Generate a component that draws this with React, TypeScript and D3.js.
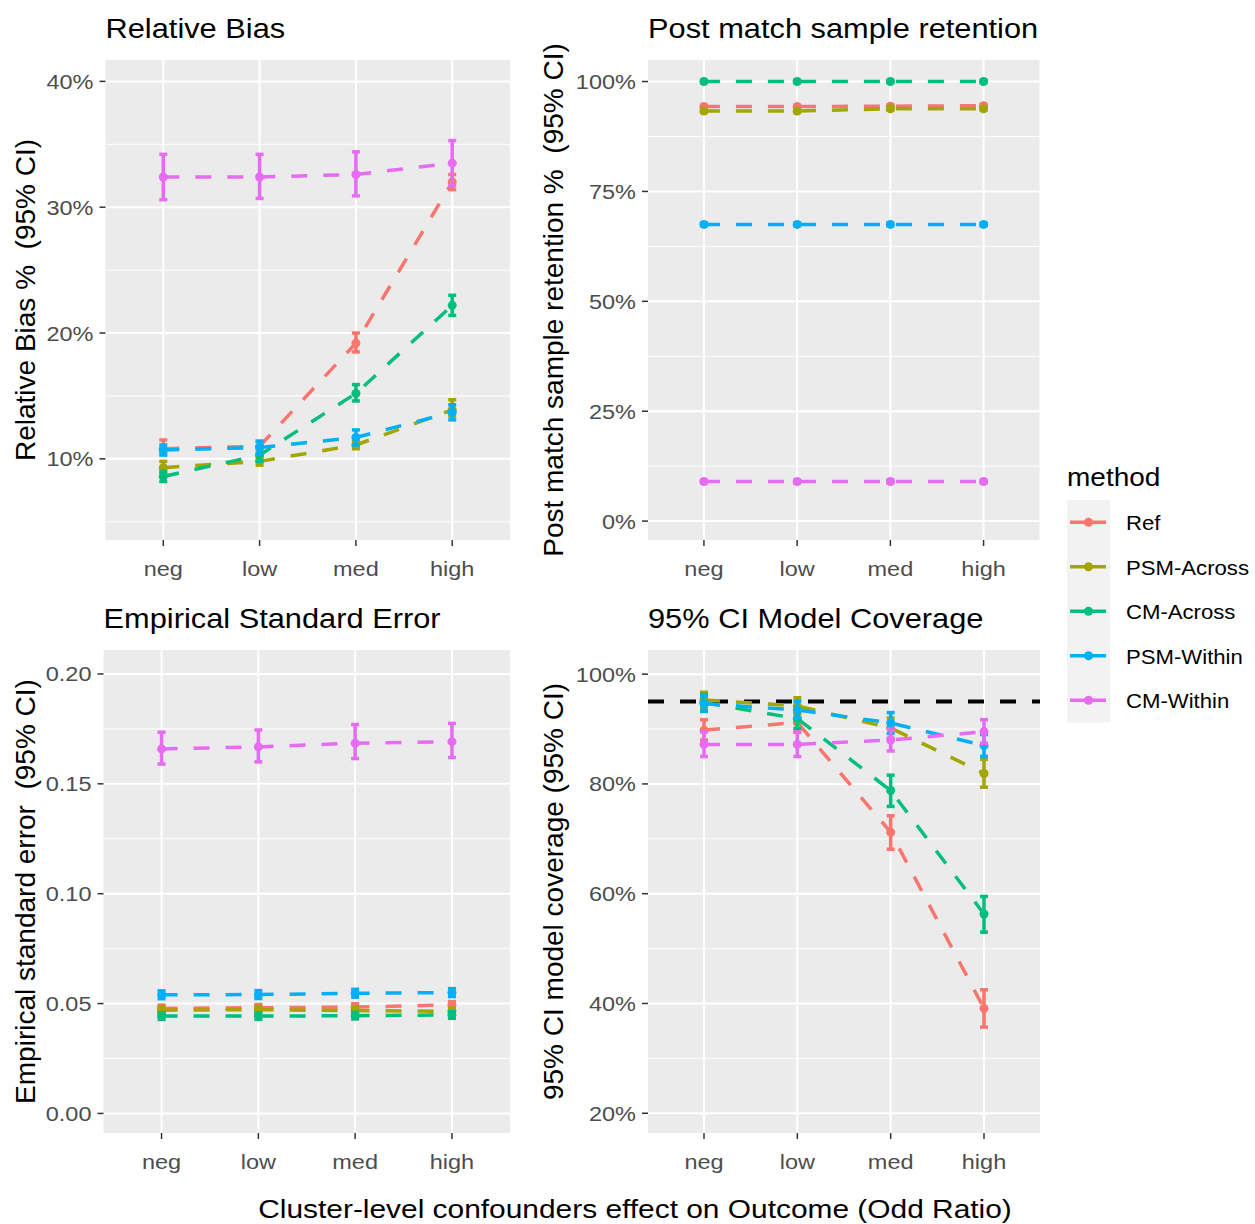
import React from "react";
import * as d3 from "d3";

// ---- data ----
const levels = ["neg", "low", "med", "high"];
const methods = ["Ref", "PSM-Across", "CM-Across", "PSM-Within", "CM-Within"];
const methodColors = ["#F8766D", "#A3A500", "#00BF7D", "#00B0F6", "#E76BF3"];

// relative bias %, rows follow `methods`
const biasEst = [
  [10.8, 11.0, 19.2, 32.0],
  [9.3, 9.8, 11.1, 13.9],
  [8.6, 10.3, 15.2, 22.2],
  [10.7, 10.9, 11.7, 13.7],
  [32.4, 32.4, 32.6, 33.5],
];
const biasLo = [
  [10.4, 10.6, 18.5, 31.4],
  [8.9, 9.5, 10.8, 13.4],
  [8.2, 9.8, 14.6, 21.4],
  [10.3, 10.4, 11.1, 13.1],
  [30.6, 30.7, 30.9, 31.7],
];
const biasHi = [
  [11.5, 11.4, 20.0, 32.6],
  [9.8, 10.1, 11.4, 14.7],
  [9.0, 10.9, 15.9, 23.0],
  [11.1, 11.4, 12.3, 14.3],
  [34.2, 34.2, 34.4, 35.3],
];
const biasTicks = [10, 20, 30, 40];
const biasMinor = [5, 15, 25, 35];

// post match sample retention %
const retEst = [
  [94.3, 94.3, 94.4, 94.5],
  [93.3, 93.3, 93.8, 93.8],
  [100, 100, 100, 100],
  [67.5, 67.5, 67.5, 67.5],
  [9.0, 9.0, 9.0, 9.0],
];
const retLo = [
  [94.0, 94.0, 94.1, 94.2],
  [93.0, 93.0, 93.5, 93.5],
  [99.8, 99.8, 99.8, 99.8],
  [67.2, 67.2, 67.2, 67.2],
  [8.7, 8.7, 8.7, 8.7],
];
const retHi = [
  [94.6, 94.6, 94.7, 94.8],
  [93.6, 93.6, 94.1, 94.1],
  [100.2, 100.2, 100.2, 100.2],
  [67.8, 67.8, 67.8, 67.8],
  [9.3, 9.3, 9.3, 9.3],
];
const retTicks = [0, 25, 50, 75, 100];
const retMinor = [12.5, 37.5, 62.5, 87.5];

// empirical standard error
const seEst = [
  [0.0478, 0.0481, 0.0484, 0.0494],
  [0.047, 0.0472, 0.0468, 0.0465],
  [0.0443, 0.0443, 0.0445, 0.0448],
  [0.054, 0.0541, 0.0547, 0.055],
  [0.1659, 0.1668, 0.1685, 0.1692],
];
const seLo = [
  [0.0463, 0.0466, 0.0469, 0.0479],
  [0.0455, 0.0457, 0.0453, 0.045],
  [0.0428, 0.0428, 0.043, 0.0433],
  [0.0522, 0.0523, 0.0529, 0.0532],
  [0.159, 0.16, 0.1615, 0.162],
];
const seHi = [
  [0.0493, 0.0496, 0.0499, 0.0509],
  [0.0485, 0.0487, 0.0483, 0.048],
  [0.0458, 0.0458, 0.046, 0.0463],
  [0.0558, 0.0559, 0.0565, 0.0568],
  [0.1735, 0.1745, 0.177, 0.1775],
];
const seTicks = [0, 0.05, 0.1, 0.15, 0.2];
const seMinor = [0.025, 0.075, 0.125, 0.175];

// 95% CI model coverage %
const covEst = [
  [89.8, 91.2, 71.2, 39.1],
  [95.3, 94.2, 90.2, 81.9],
  [94.8, 91.9, 78.8, 56.3],
  [94.6, 93.5, 91.1, 87.0],
  [87.2, 87.2, 88.0, 89.5],
];
const covLo = [
  [88.0, 89.4, 68.1, 35.7],
  [94.0, 92.8, 88.3, 79.4],
  [93.4, 90.1, 75.9, 53.0],
  [93.2, 92.0, 89.2, 85.0],
  [85.0, 85.0, 86.0, 87.4],
];
const covHi = [
  [91.7, 92.9, 74.2, 42.5],
  [96.7, 95.7, 92.0, 84.5],
  [96.3, 93.6, 81.6, 59.5],
  [96.0, 95.1, 93.0, 89.0],
  [89.5, 89.5, 90.0, 91.7],
];
const covTicks = [20, 40, 60, 80, 100];
const covMinor = [30, 50, 70, 90];
const covNominal = 95;

const xTitle = "Cluster-level confounders effect on Outcome (Odd Ratio)";

// ---- styling ----
const FONT = "'Liberation Sans', Arial, sans-serif";
const SX = 1.12; // the reference text is a little wide
const pct = (d) => d + "%";

function Txt({ x, y, size, anchor = "start", fill = "#000", sx = SX, children }) {
  return (
    <text
      transform={`translate(${x},${y}) scale(${sx},1)`}
      fontSize={size}
      textAnchor={anchor}
      fill={fill}
      fontFamily={FONT}
      style={{ whiteSpace: "pre" }}
    >
      {children}
    </text>
  );
}

function Panel({ box, domain, est, lo, hi, ticks, minor, fmt, title, yTitle, yTitleX, hline }) {
  const { left, right, top, bottom } = box;
  const x = d3.scalePoint().domain(levels).range([left, right]).padding(0.6);
  const y = d3.scaleLinear().domain(domain).range([bottom, top]);
  const line = d3
    .line()
    .x((d, i) => x(levels[i]))
    .y((d) => y(d));

  return (
    <g>
      <rect x={left} y={top} width={right - left} height={bottom - top} fill="#EBEBEB" />
      {minor.map((t) => (
        <line key={"m" + t} x1={left} x2={right} y1={y(t)} y2={y(t)} stroke="#fff" strokeWidth={1} />
      ))}
      {ticks.map((t) => (
        <line key={"g" + t} x1={left} x2={right} y1={y(t)} y2={y(t)} stroke="#fff" strokeWidth={2} />
      ))}
      {levels.map((l) => (
        <line key={"v" + l} x1={x(l)} x2={x(l)} y1={top} y2={bottom} stroke="#fff" strokeWidth={2} />
      ))}

      {/* axes ticks and labels */}
      {ticks.map((t) => (
        <g key={"t" + t}>
          <line x1={left - 6} x2={left} y1={y(t)} y2={y(t)} stroke="#333" strokeWidth={1.5} />
          <Txt x={left - 12} y={y(t) + 7.5} size={21} anchor="end" fill="#4D4D4D">
            {fmt(t)}
          </Txt>
        </g>
      ))}
      {levels.map((l) => (
        <g key={"xt" + l}>
          <line x1={x(l)} x2={x(l)} y1={bottom} y2={bottom + 6} stroke="#333" strokeWidth={1.5} />
          <Txt x={x(l)} y={bottom + 36} size={21} anchor="middle" fill="#4D4D4D">
            {l}
          </Txt>
        </g>
      ))}

      {hline !== undefined && (
        <line
          x1={left}
          x2={right}
          y1={y(hline)}
          y2={y(hline)}
          stroke="#000"
          strokeWidth={4}
          strokeDasharray="16 16"
        />
      )}

      {/* series */}
      {methods.map((m, k) => (
        <g key={m}>
          <path
            d={line(est[k])}
            fill="none"
            stroke={methodColors[k]}
            strokeWidth={3.5}
            strokeDasharray="16 16"
          />
          {levels.map((l, i) => (
            <g key={l} stroke={methodColors[k]} strokeWidth={3.5}>
              <line x1={x(l)} x2={x(l)} y1={y(lo[k][i])} y2={y(hi[k][i])} />
              <line x1={x(l) - 4} x2={x(l) + 4} y1={y(lo[k][i])} y2={y(lo[k][i])} />
              <line x1={x(l) - 4} x2={x(l) + 4} y1={y(hi[k][i])} y2={y(hi[k][i])} />
            </g>
          ))}
          {levels.map((l, i) => (
            <circle key={"p" + l} cx={x(l)} cy={y(est[k][i])} r={4.5} fill={methodColors[k]} />
          ))}
        </g>
      ))}

      <Txt x={left} y={top - 22} size={27.5}>
        {title}
      </Txt>
      <text
        transform={`translate(${yTitleX},${(top + bottom) / 2}) rotate(-90)`}
        fontSize={28}
        textAnchor="middle"
        fontFamily={FONT}
        fill="#000"
        style={{ whiteSpace: "pre" }}
      >
        {yTitle}
      </text>
    </g>
  );
}

function Legend() {
  const lx = 1067;
  const ly = 500;
  const step = 44.5;
  return (
    <g>
      <Txt x={lx} y={486} size={25}>
        method
      </Txt>
      {methods.map((m, k) => {
        const cy = ly + step * k + step / 2;
        return (
          <g key={m}>
            <rect x={lx} y={ly + step * k} width={43} height={step} fill="#F2F2F2" />
            <line x1={lx + 3} x2={lx + 39} y1={cy} y2={cy} stroke={methodColors[k]} strokeWidth={3.5} />
            <circle cx={lx + 21.5} cy={cy} r={4.5} fill={methodColors[k]} />
            <Txt x={1126} y={cy + 8} size={20.5} sx={1.08}>
              {m}
            </Txt>
          </g>
        );
      })}
    </g>
  );
}

export default function App() {
  return (
    <svg
      width={1255}
      height={1224}
      style={{ position: "absolute", left: 0, top: 0, background: "#fff" }}
    >
      <rect width={1255} height={1224} fill="#fff" />
      <Panel
        box={{ left: 105.5, right: 510, top: 60, bottom: 540 }}
        domain={[3.55, 41.7]}
        est={biasEst}
        lo={biasLo}
        hi={biasHi}
        ticks={biasTicks}
        minor={biasMinor}
        fmt={pct}
        title="Relative Bias"
        yTitle="Relative Bias %  (95% CI)"
        yTitleX={35}
      />
      <Panel
        box={{ left: 648, right: 1039.5, top: 60, bottom: 540 }}
        domain={[-4.3, 104.9]}
        est={retEst}
        lo={retLo}
        hi={retHi}
        ticks={retTicks}
        minor={retMinor}
        fmt={pct}
        title="Post match sample retention"
        yTitle="Post match sample retention %  (95% CI)"
        yTitleX={563}
      />
      <Panel
        box={{ left: 103.5, right: 510, top: 650, bottom: 1133 }}
        domain={[-0.0089, 0.2109]}
        est={seEst}
        lo={seLo}
        hi={seHi}
        ticks={seTicks}
        minor={seMinor}
        fmt={d3.format(".2f")}
        title="Empirical Standard Error"
        yTitle="Empirical standard error  (95% CI)"
        yTitleX={35}
      />
      <Panel
        box={{ left: 648, right: 1040, top: 650, bottom: 1133 }}
        domain={[16.4, 104.4]}
        est={covEst}
        lo={covLo}
        hi={covHi}
        ticks={covTicks}
        minor={covMinor}
        fmt={pct}
        title="95% CI Model Coverage"
        yTitle="95% CI model coverage (95% CI)"
        yTitleX={563}
        hline={covNominal}
      />
      <Legend />
      <Txt x={635} y={1218} size={26.7} anchor="middle">
        {xTitle}
      </Txt>
    </svg>
  );
}
